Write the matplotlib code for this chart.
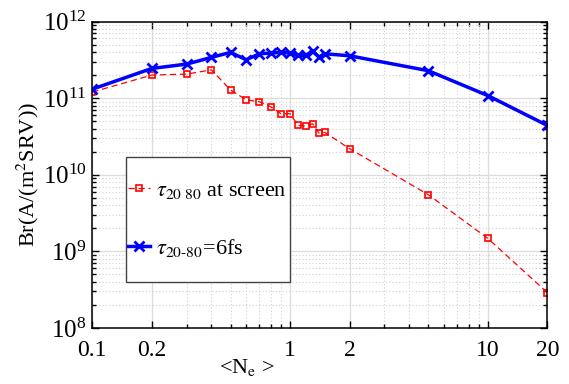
import matplotlib
matplotlib.use("Agg")
import matplotlib.pyplot as plt
import numpy as np
from matplotlib.patches import Rectangle
from matplotlib.ticker import FixedLocator, FixedFormatter, LogLocator, LogFormatterMathtext

plt.rcParams["font.family"] = ["Liberation Serif", "DejaVu Serif"]
plt.rcParams["mathtext.fontset"] = "stix"

# ---------------------------------------------------------------------------
# Data
# ---------------------------------------------------------------------------
ne_fixed = [0.1, 0.2, 0.3, 0.4, 0.5, 0.6, 0.7, 0.8, 0.9, 1.0, 1.1, 1.2, 1.3,
            1.4, 1.5, 2.0, 5.0, 10.0, 20.0]
br_fixed = [1.31e11, 2.44e11, 2.78e11, 3.40e11, 3.95e11, 3.17e11, 3.79e11,
            3.87e11, 3.95e11, 3.87e11, 3.61e11, 3.61e11, 4.06e11, 3.44e11,
            3.79e11, 3.57e11, 2.28e11, 1.08e11, 4.4e10]

ne_screen = [0.1, 0.2, 0.3, 0.4, 0.5, 0.6, 0.7, 0.8, 0.9, 1.0, 1.1, 1.2, 1.3,
             1.4, 1.5, 2.0, 5.0, 10.0, 20.0]
br_screen = [1.2e11, 2.0e11, 2.06e11, 2.34e11, 1.28e11, 9.5e10, 8.97e10,
             7.7e10, 6.26e10, 6.26e10, 4.4e10, 4.33e10, 4.63e10, 3.5e10,
             3.57e10, 2.19e10, 5.5e9, 1.48e9, 2.9e8]

x_major = [0.1, 0.2, 1, 2, 10, 20]
x_major_labels = ["0.1", "0.2", "1", "2", "10", "20"]
x_minor = [0.3, 0.4, 0.5, 0.6, 0.7, 0.8, 0.9, 3, 4, 5, 6, 7, 8, 9]

label_screen = r"$\tau_{\rm 20\ 80}$ at screen"
label_fixed = r"$\tau_{\rm 20\text{-}80}$=6fs"

# ---------------------------------------------------------------------------
# Figure
# ---------------------------------------------------------------------------
fig = plt.figure(figsize=(5.69, 3.84), dpi=100)
ax = fig.add_axes([92.3 / 569, 1 - 328 / 384, 455 / 569, 306.5 / 384])

ax.plot(ne_screen, br_screen, color="red", ls=(0, (5, 3)), lw=0.9,
        marker="s", ms=5, mfc="none", mec="red", mew=1.2, label=label_screen)
ax.plot(ne_fixed, br_fixed, color="blue", ls="-", lw=2.5,
        marker="x", ms=6.5, mew=2, label=label_fixed)

ax.set_xscale("log")
ax.set_yscale("log")
ax.set_xlim(0.1, 20)
ax.set_ylim(1e8, 1e12)

ax.xaxis.set_major_locator(FixedLocator(x_major))
ax.xaxis.set_major_formatter(FixedFormatter(x_major_labels))
ax.xaxis.set_minor_locator(FixedLocator(x_minor))
ax.xaxis.set_minor_formatter(FixedFormatter([""] * len(x_minor)))
ax.yaxis.set_major_locator(LogLocator(base=10, numticks=10))
ax.yaxis.set_major_formatter(LogFormatterMathtext())
ax.yaxis.set_minor_locator(LogLocator(base=10, subs=np.arange(2, 10), numticks=10))

ax.grid(True, which="major", color="#dcdcdc", lw=0.9, ls="-")
ax.grid(True, which="minor", color="#d0d0d0", lw=0.8, ls=(0, (1, 2)))
ax.set_axisbelow(True)

ax.tick_params(which="both", direction="in", top=True, right=True, width=1.0)
ax.tick_params(which="major", length=5)
ax.tick_params(which="minor", length=3)
ax.tick_params(axis="x", which="major", pad=9, labelsize=17)
ax.tick_params(axis="y", which="major", pad=4, labelsize=18)
for s in ax.spines.values():
    s.set_linewidth(1.1)

ax.set_ylabel(r"Br(A/(m$^2$SRV))", fontsize=16, labelpad=1)
ax.set_xlabel(r"<N$_{\rm e}$ >", fontsize=16)
ax.xaxis.set_label_coords(0.34, -0.095)

# legend: frame drawn separately (tall vertical padding, tight horizontal)
ax.add_patch(Rectangle((0.074, 0.151), 0.360, 0.406, transform=ax.transAxes,
                       facecolor="white", edgecolor="#444444", lw=1.0, zorder=4))
leg = ax.legend(loc="center left", bbox_to_anchor=(0.078, 0.354), fontsize=16,
                frameon=False, borderpad=0, borderaxespad=0,
                labelspacing=1.6, handlelength=1.0, handletextpad=0.25)
leg.set_zorder(5)

fig.savefig("out.png", dpi=100)
